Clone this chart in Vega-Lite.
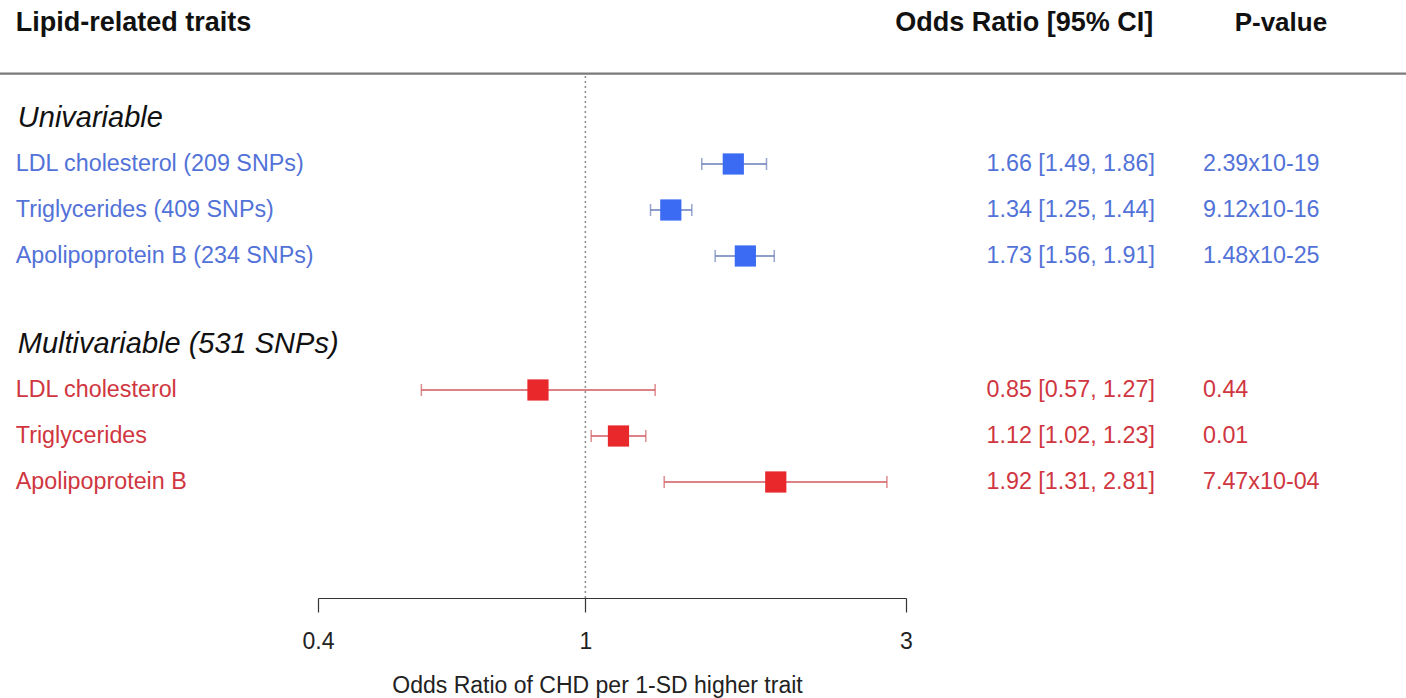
{
  "$schema": "https://vega.github.io/schema/vega-lite/v6.json",
  "width": 1406,
  "height": 598,
  "autosize": "none",
  "padding": {"left": 0, "top": 0, "right": 0, "bottom": 100},
  "background": "white",
  "config": {"font": "Liberation Sans", "view": {"stroke": null}},
  "data": {"values": [{}]},
  "datasets": {
    "rows": [
      {"group": "uni", "label": "LDL cholesterol (209 SNPs)", "row": 3.565, "or": 1.66, "lo": 1.49, "hi": 1.86, "ci": "1.66 [1.49, 1.86]", "p": "2.39x10-19"},
      {"group": "uni", "label": "Triglycerides (409 SNPs)", "row": 4.565, "or": 1.34, "lo": 1.25, "hi": 1.44, "ci": "1.34 [1.25, 1.44]", "p": "9.12x10-16"},
      {"group": "uni", "label": "Apolipoprotein B (234 SNPs)", "row": 5.565, "or": 1.73, "lo": 1.56, "hi": 1.91, "ci": "1.73 [1.56, 1.91]", "p": "1.48x10-25"},
      {"group": "multi", "label": "LDL cholesterol", "row": 8.478, "or": 0.85, "lo": 0.57, "hi": 1.27, "ci": "0.85 [0.57, 1.27]", "p": "0.44"},
      {"group": "multi", "label": "Triglycerides", "row": 9.478, "or": 1.12, "lo": 1.02, "hi": 1.23, "ci": "1.12 [1.02, 1.23]", "p": "0.01"},
      {"group": "multi", "label": "Apolipoprotein B", "row": 10.478, "or": 1.92, "lo": 1.31, "hi": 2.81, "ci": "1.92 [1.31, 2.81]", "p": "7.47x10-04"}
    ],
    "sections": [
      {"label": "Univariable", "row": 2.565},
      {"label": "Multivariable (531 SNPs)", "row": 7.478}
    ]
  },
  "layer": [
    {
      "mark": {"type": "rule", "color": "#7a7a7a", "strokeWidth": 2.2},
      "encoding": {
        "y": {"datum": 1.6, "type": "quantitative", "scale": {"domain": [0, 13], "reverse": true, "nice": false, "zero": false}, "axis": null}
      }
    },
    {
      "mark": {"type": "rule", "color": "#8a8a8a", "strokeWidth": 1.5, "strokeDash": [2, 3]},
      "encoding": {
        "x": {"datum": 1, "type": "quantitative", "scale": {"type": "log", "domain": [0.4, 3], "range": [318, 906], "nice": false},
          "axis": {"values": [0.4, 1, 3], "format": "~g", "grid": false, "domainColor": "#333", "domainWidth": 1.2, "tickColor": "#333", "tickWidth": 1.2, "tickSize": 14, "labelFontSize": 23, "labelColor": "#222", "labelPadding": 18, "labelFlush": false, "labelBound": false, "labelOverlap": false, "title": "Odds Ratio of CHD per 1-SD higher trait", "titleFontSize": 23, "titleFontWeight": "normal", "titleColor": "#222", "titlePadding": 21, "titleX": 597}},
        "y": {"datum": 1.65, "type": "quantitative", "scale": {"domain": [0, 13], "reverse": true, "nice": false, "zero": false}, "axis": null},
        "y2": {"datum": 13}
      }
    },
    {
      "data": {"name": "rows"},
      "mark": {"type": "rule", "strokeWidth": 1.5},
      "encoding": {
        "x": {"field": "lo", "type": "quantitative", "scale": {"type": "log", "domain": [0.4, 3], "range": [318, 906], "nice": false}},
        "x2": {"field": "hi"},
        "y": {"field": "row", "type": "quantitative", "scale": {"domain": [0, 13], "reverse": true, "nice": false, "zero": false}, "axis": null},
        "color": {"field": "group", "type": "nominal", "scale": {"domain": ["uni", "multi"], "range": ["#6a7db8", "#d25a5f"]}, "legend": null}
      }
    },
    {
      "data": {"name": "rows"},
      "mark": {"type": "tick", "orient": "vertical", "size": 12, "thickness": 1.5},
      "encoding": {
        "x": {"field": "lo", "type": "quantitative", "scale": {"type": "log", "domain": [0.4, 3], "range": [318, 906], "nice": false}},
        "y": {"field": "row", "type": "quantitative", "scale": {"domain": [0, 13], "reverse": true, "nice": false, "zero": false}, "axis": null},
        "color": {"field": "group", "type": "nominal", "scale": {"domain": ["uni", "multi"], "range": ["#6a7db8", "#d25a5f"]}, "legend": null}
      }
    },
    {
      "data": {"name": "rows"},
      "mark": {"type": "tick", "orient": "vertical", "size": 12, "thickness": 1.5},
      "encoding": {
        "x": {"field": "hi", "type": "quantitative", "scale": {"type": "log", "domain": [0.4, 3], "range": [318, 906], "nice": false}},
        "y": {"field": "row", "type": "quantitative", "scale": {"domain": [0, 13], "reverse": true, "nice": false, "zero": false}, "axis": null},
        "color": {"field": "group", "type": "nominal", "scale": {"domain": ["uni", "multi"], "range": ["#6a7db8", "#d25a5f"]}, "legend": null}
      }
    },
    {
      "data": {"name": "rows"},
      "mark": {"type": "point", "shape": "square", "filled": true, "opacity": 1, "size": 450, "strokeWidth": 0},
      "encoding": {
        "x": {"field": "or", "type": "quantitative", "scale": {"type": "log", "domain": [0.4, 3], "range": [318, 906], "nice": false}},
        "y": {"field": "row", "type": "quantitative", "scale": {"domain": [0, 13], "reverse": true, "nice": false, "zero": false}, "axis": null},
        "color": {"field": "group", "type": "nominal", "scale": {"domain": ["uni", "multi"], "range": ["#3b6bf2", "#e8282b"]}, "legend": null}
      }
    },
    {
      "data": {"name": "rows"},
      "mark": {"type": "text", "align": "left", "baseline": "middle", "fontSize": 23.3},
      "encoding": {
        "x": {"datum": 0.142, "type": "quantitative", "scale": {"type": "log", "domain": [0.4, 3], "range": [318, 906], "nice": false}},
        "y": {"field": "row", "type": "quantitative", "scale": {"domain": [0, 13], "reverse": true, "nice": false, "zero": false}, "axis": null},
        "text": {"field": "label"},
        "color": {"field": "group", "type": "nominal", "scale": {"domain": ["uni", "multi"], "range": ["#5272d8", "#d0363f"]}, "legend": null}
      }
    },
    {
      "data": {"name": "rows"},
      "mark": {"type": "text", "align": "right", "baseline": "middle", "fontSize": 23.3},
      "encoding": {
        "x": {"datum": 7.04, "type": "quantitative", "scale": {"type": "log", "domain": [0.4, 3], "range": [318, 906], "nice": false}},
        "y": {"field": "row", "type": "quantitative", "scale": {"domain": [0, 13], "reverse": true, "nice": false, "zero": false}, "axis": null},
        "text": {"field": "ci"},
        "color": {"field": "group", "type": "nominal", "scale": {"domain": ["uni", "multi"], "range": ["#5272d8", "#d0363f"]}, "legend": null}
      }
    },
    {
      "data": {"name": "rows"},
      "mark": {"type": "text", "align": "left", "baseline": "middle", "fontSize": 23.3},
      "encoding": {
        "x": {"datum": 8.3, "type": "quantitative", "scale": {"type": "log", "domain": [0.4, 3], "range": [318, 906], "nice": false}},
        "y": {"field": "row", "type": "quantitative", "scale": {"domain": [0, 13], "reverse": true, "nice": false, "zero": false}, "axis": null},
        "text": {"field": "p"},
        "color": {"field": "group", "type": "nominal", "scale": {"domain": ["uni", "multi"], "range": ["#5272d8", "#d0363f"]}, "legend": null}
      }
    },
    {
      "data": {"name": "sections"},
      "mark": {"type": "text", "align": "left", "baseline": "middle", "fontSize": 29, "fontStyle": "italic", "color": "#111"},
      "encoding": {
        "x": {"datum": 0.143, "type": "quantitative", "scale": {"type": "log", "domain": [0.4, 3], "range": [318, 906], "nice": false}},
        "y": {"field": "row", "type": "quantitative", "scale": {"domain": [0, 13], "reverse": true, "nice": false, "zero": false}, "axis": null},
        "text": {"field": "label"}
      }
    },
    {
      "mark": {"type": "text", "align": "left", "baseline": "middle", "fontSize": 27, "fontWeight": "bold", "color": "#111"},
      "encoding": {
        "x": {"datum": 0.142, "type": "quantitative", "scale": {"type": "log", "domain": [0.4, 3], "range": [318, 906], "nice": false}},
        "y": {"datum": 0.49, "type": "quantitative", "scale": {"domain": [0, 13], "reverse": true, "nice": false, "zero": false}, "axis": null},
        "text": {"value": "Lipid-related traits"}
      }
    },
    {
      "mark": {"type": "text", "align": "right", "baseline": "middle", "fontSize": 27, "fontWeight": "bold", "color": "#111"},
      "encoding": {
        "x": {"datum": 7.0, "type": "quantitative", "scale": {"type": "log", "domain": [0.4, 3], "range": [318, 906], "nice": false}},
        "y": {"datum": 0.49, "type": "quantitative", "scale": {"domain": [0, 13], "reverse": true, "nice": false, "zero": false}, "axis": null},
        "text": {"value": "Odds Ratio [95% CI]"}
      }
    },
    {
      "mark": {"type": "text", "align": "center", "baseline": "middle", "fontSize": 26, "fontWeight": "bold", "color": "#111"},
      "encoding": {
        "x": {"datum": 10.84, "type": "quantitative", "scale": {"type": "log", "domain": [0.4, 3], "range": [318, 906], "nice": false}},
        "y": {"datum": 0.49, "type": "quantitative", "scale": {"domain": [0, 13], "reverse": true, "nice": false, "zero": false}, "axis": null},
        "text": {"value": "P-value"}
      }
    }
  ],
  "resolve": {"scale": {"color": "independent"}}
}
